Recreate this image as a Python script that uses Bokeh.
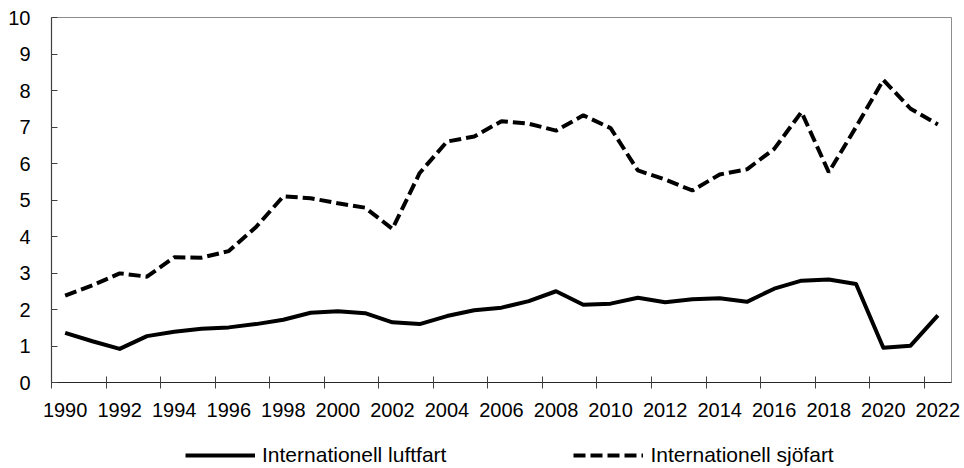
from bokeh.plotting import figure
from bokeh.models import Range1d, FixedTicker, Legend, LegendItem
from bokeh.layouts import column
from bokeh.embed import file_html
from bokeh.resources import INLINE

years = list(range(1990, 2023))
luftfart = [1.36, 1.13, 0.92, 1.27, 1.39, 1.47, 1.51, 1.60, 1.72, 1.91, 1.95, 1.90,
            1.65, 1.60, 1.82, 1.98, 2.05, 2.23, 2.50, 2.13, 2.16, 2.32, 2.20, 2.28,
            2.31, 2.21, 2.57, 2.79, 2.82, 2.70, 0.95, 1.01, 1.84]
sjofart = [2.38, 2.66, 2.99, 2.90, 3.43, 3.42, 3.60, 4.26, 5.10, 5.05, 4.91, 4.79,
           4.21, 5.74, 6.60, 6.74, 7.16, 7.09, 6.90, 7.32, 6.97, 5.81, 5.56, 5.26,
           5.70, 5.84, 6.40, 7.41, 5.76, 7.00, 8.29, 7.50, 7.07]
label_years = list(range(1990, 2023, 2))
boundaries = [y - 0.5 for y in range(1990, 2023, 2)]
y_ticks = list(range(0, 11))
series_names = ["Internationell luftfart", "Internationell sjöfart"]

FONT = "Liberation Sans"
SOLID = dict(line_color="black", line_width=4, line_join="round")
DASHED = dict(line_color="black", line_width=4, line_dash="12 5")

p = figure(width=964, height=422, output_backend="svg", toolbar_location=None,
           x_range=Range1d(1989.5, 2022.5), y_range=Range1d(0, 10),
           min_border_left=51, min_border_right=13, min_border_top=17,
           min_border_bottom=40)
p.grid.visible = False
p.outline_line_color = "#8c8c8c"
p.outline_line_width = 1
p.background_fill_color = "white"
p.border_fill_color = "white"

xa = p.xaxis[0]
xa.ticker = FixedTicker(ticks=label_years, minor_ticks=boundaries)
xa.major_tick_in = 0
xa.major_tick_out = 0
xa.minor_tick_in = 6
xa.minor_tick_out = 6
xa.minor_tick_line_color = "#404040"
xa.axis_line_color = "#262626"
xa.axis_line_width = 1.2
xa.major_label_text_font = FONT
xa.major_label_text_font_size = "20px"
xa.major_label_text_color = "#000000"
xa.major_label_standoff = 14

ya = p.yaxis[0]
ya.ticker = FixedTicker(ticks=y_ticks)
ya.major_tick_in = 6
ya.major_tick_out = 0
ya.minor_tick_in = 0
ya.minor_tick_out = 0
ya.major_tick_line_color = "#404040"
ya.axis_line_color = "#404040"
ya.axis_line_width = 1.2
ya.major_label_text_font = FONT
ya.major_label_text_font_size = "20px"
ya.major_label_text_color = "#000000"
ya.major_label_standoff = 21

p.line(years, luftfart, **SOLID)
p.line(years, sjofart, **DASHED)

# legend strip below the chart (its lines fall outside its own view, only the legend shows)
pl = figure(width=964, height=46, output_backend="svg", toolbar_location=None,
            x_range=Range1d(0, 1), y_range=Range1d(0, 1),
            min_border=0, outline_line_color=None)
pl.axis.visible = False
pl.grid.visible = False
pl.border_fill_color = "white"
l1 = pl.line(years, luftfart, **SOLID)
l2 = pl.line(years, sjofart, **DASHED)
legend = Legend(items=[LegendItem(label=series_names[0], renderers=[l1]),
                       LegendItem(label=series_names[1], renderers=[l2])],
                orientation="horizontal", location=(134, 1),
                glyph_width=70, glyph_height=20, label_standoff=7,
                spacing=127, padding=0, margin=0,
                background_fill_alpha=0, border_line_alpha=0,
                label_text_font=FONT, label_text_font_size="21px",
                label_text_color="#000000")
pl.add_layout(legend, "center")

layout = column(p, pl, spacing=0)
open("out.html", "w").write(file_html(layout, INLINE))
